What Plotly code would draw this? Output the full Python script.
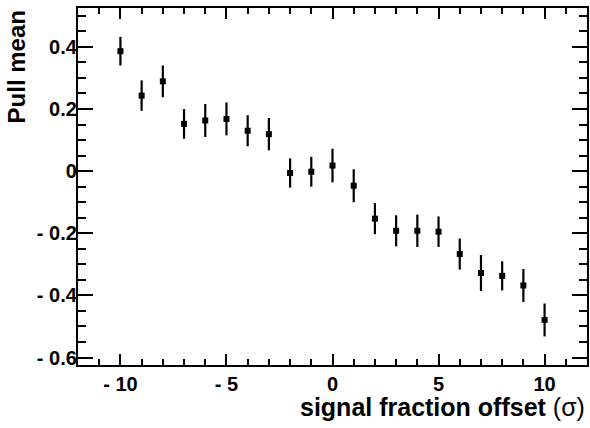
import plotly.graph_objects as go

offsets = list(range(-10, 11))
pull_mean = [0.386, 0.243, 0.289, 0.152, 0.163, 0.168, 0.130, 0.119, -0.006, -0.002,
             0.018, -0.047, -0.153, -0.192, -0.192, -0.195, -0.267, -0.328, -0.337, -0.368, -0.479]
pull_err = [0.046, 0.049, 0.051, 0.048, 0.053, 0.053, 0.050, 0.052, 0.047, 0.048,
            0.054, 0.053, 0.050, 0.050, 0.052, 0.049, 0.050, 0.058, 0.047, 0.053, 0.053]

x_tickvals = [-10, -5, 0, 5, 10]
x_ticktext = ["- 10", "- 5", "0", "5", "10"]
y_tickvals = [-0.6, -0.4, -0.2, 0, 0.2, 0.4]
y_ticktext = ["- 0.6", "- 0.4", "- 0.2", "0", "0.2", "0.4"]

FONT = "Liberation Sans, Arial, Helvetica, sans-serif"

fig = go.Figure()
fig.add_trace(go.Scatter(
    x=offsets, y=pull_mean, mode="markers",
    marker=dict(symbol="square", size=6, color="black"),
    error_y=dict(type="data", array=pull_err, visible=True, color="black", thickness=2.2, width=0),
    showlegend=False,
))

axis_common = dict(
    showline=True, linecolor="black", linewidth=2.2, mirror="allticks",
    ticks="inside", tickcolor="black", tickwidth=2,
    showgrid=False, zeroline=False,
    tickfont=dict(family=FONT, size=20, color="black", weight="bold"),
)

fig.update_xaxes(
    range=[-12, 12], tickvals=x_tickvals, ticktext=x_ticktext, ticklen=11,
    minor=dict(dtick=1, ticks="inside", ticklen=6, tickcolor="black", tickwidth=2, showgrid=False),
    **axis_common,
)
fig.update_yaxes(
    range=[-0.624, 0.525], tickvals=y_tickvals, ticktext=y_ticktext, ticklen=15,
    ticklabelstandoff=-5,
    minor=dict(dtick=0.05, tick0=0, ticks="inside", ticklen=8, tickcolor="black", tickwidth=2, showgrid=False),
    **axis_common,
)

fig.add_annotation(
    text="<b>signal fraction offset </b>(σ)", xref="paper", yref="paper",
    x=1.0, y=-0.118, xanchor="right", yanchor="middle", showarrow=False,
    font=dict(family=FONT, size=25, color="black"),
)
fig.add_annotation(
    text="<b>Pull mean</b>", xref="paper", yref="paper",
    x=-0.12, y=1.0, xanchor="center", yanchor="top", textangle=-90, showarrow=False,
    font=dict(family=FONT, size=24, color="black"),
)

fig.update_layout(
    width=590, height=428, autosize=False,
    margin=dict(l=78, r=3, t=8, b=63, autoexpand=False),
    paper_bgcolor="white", plot_bgcolor="white",
)

post = ("document.body.style.margin='0';document.body.style.padding='0';"
        "document.body.style.overflow='hidden';"
        "document.documentElement.style.overflow='hidden';")
fig.write_html("out.html", post_script=post, config={"displayModeBar": False})
